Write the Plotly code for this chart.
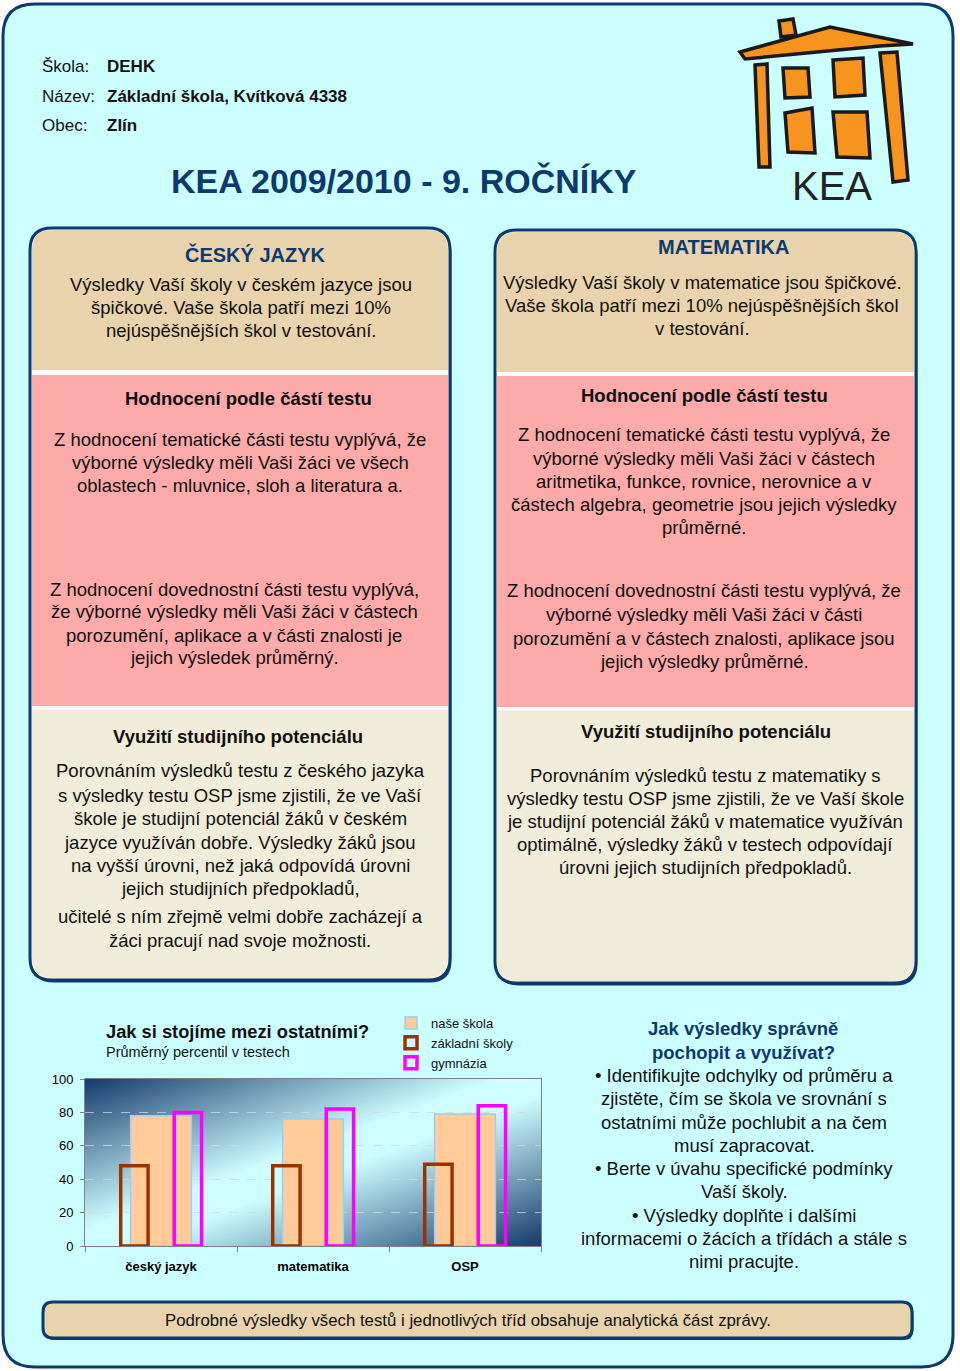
import base64
import plotly.graph_objects as go

W, H = 960, 1371
FONT = "Liberation Sans, Arial, sans-serif"
NAVY = "#0d3a6e"
TXT = "#111111"

# ---------------- data ----------------
categories = ["český jazyk", "matematika", "OSP"]
nase_skola = [78, 76, 79]
zakladni_skoly = [48, 48, 49]
gymnazia = [80, 82, 84]
y_ticks = [0, 20, 40, 60, 80, 100]
series_names = ["naše škola", "základní školy", "gymnázia"]

# ---------------- helpers ----------------
def X(px):
    return px / W

def Y(py):
    return 1 - py / H

def P(x, y):
    return f"{X(x):.5f},{Y(y):.5f}"

def rr(x0, y0, x1, y1, r, rt=True, rb=True):
    a = r if rt else 0
    b = r if rb else 0
    return (f"M{P(x0+a,y0)} L{P(x1-a,y0)} Q{P(x1,y0)} {P(x1,y0+a)} "
            f"L{P(x1,y1-b)} Q{P(x1,y1)} {P(x1-b,y1)} L{P(x0+b,y1)} "
            f"Q{P(x0,y1)} {P(x0,y1-b)} L{P(x0,y0+a)} Q{P(x0,y0)} {P(x0+a,y0)} Z")

def poly(pts):
    return "M" + " L".join(P(x, y) for x, y in pts) + " Z"

shapes = []
annotations = []

def shape(path, fill=None, line=None, lw=0, fillrule=None):
    d = dict(type="path", path=path, xref="paper", yref="paper", layer="above",
             line=dict(color=line if line else "rgba(0,0,0,0)", width=lw))
    d["fillcolor"] = fill if fill else "rgba(0,0,0,0)"
    if fillrule:
        d["fillrule"] = fillrule
    shapes.append(d)

def txt(x, y, s, size=18.5, bold=False, color=TXT, xanchor="center"):
    annotations.append(dict(
        x=X(x), y=Y(y), xref="paper", yref="paper",
        text=f"<b>{s}</b>" if bold else s, showarrow=False,
        font=dict(family=FONT, size=size, color=color),
        xanchor=xanchor, yanchor="middle"))

# ---------------- outer frame ----------------
CYAN = "#ccffff"
TAN = "#e8d3ac"
PINK = "#fcaaaa"
CREAM = "#f0ecda"
SHADOW = "#123a66"

shape(f"M{P(-5,-5)} L{P(W+5,-5)} L{P(W+5,H+5)} L{P(-5,H+5)} Z " + rr(3, 4, 953, 1367, 32),
      fill="white", fillrule="evenodd")
shape(rr(3, 4, 953, 1367, 32), line=NAVY, lw=3)

# ---------------- panels ----------------
def panel(x0, y0, x1, y1, tan_end, pink0, pink1, cream0):
    shape(rr(x0 + 1.5, y0 + 2.5, x1 + 1.5, y1 + 2.5, 22), fill=SHADOW)
    shape(rr(x0, y0, x1, y1, 22), fill="white")
    shape(rr(x0 + 2, y0 + 2, x1 - 2, tan_end, 20, rb=False), fill=TAN)
    shape(rr(x0 + 2, pink0, x1 - 2, pink1, 0), fill=PINK)
    shape(rr(x0 + 2, cream0, x1 - 2, y1 - 2, 20, rt=False), fill=CREAM)
    shape(rr(x0, y0, x1, y1, 22), line=NAVY, lw=3)

panel(30, 228, 450, 980, 370, 375, 706, 710)
panel(495, 230, 916, 983, 372, 376, 707, 710)

# bottom banner
shape(rr(44.5, 1304, 913.5, 1340, 10), fill=SHADOW)
shape(rr(43, 1302, 912, 1338, 10), fill=TAN, line=NAVY, lw=3)

# ---------------- logo ----------------
ORANGE = "#f7941d"
BLK = "#1a1a1a"
logo_parts = [
    [(779, 21), (793, 19), (796, 35), (781, 37)],
    [(740, 52), (830, 27), (913, 44), (880, 46), (745, 59)],
    [(755, 65), (767, 64), (770, 167), (759, 167)],
    [(783, 68), (808, 68), (810, 97), (785, 98)],
    [(833, 60), (863, 58), (865, 95), (835, 97)],
    [(785, 113), (812, 108), (815, 153), (788, 152)],
    [(833, 112), (867, 112), (870, 158), (837, 157)],
    [(880, 53), (897, 52), (908, 180), (893, 182)],
]
for pts in logo_parts:
    shape(poly(pts), fill=ORANGE, line=BLK, lw=3.5)
txt(832, 186, "KEA", size=40, color="#222222")

# ---------------- header ----------------
for yy, lab, val in [(66, "Škola:", "DEHK"),
                     (96, "Název:", "Základní škola, Kvítková 4338"),
                     (126, "Obec:", "Zlín")]:
    txt(40, yy, lab, size=17, xanchor="left")
    txt(105, yy, val, size=17, bold=True, xanchor="left")
txt(404, 181, "KEA 2009/2010 - 9. ROČNÍKY", size=34, bold=True, color=NAVY)

# ---------------- left panel texts ----------------
txt(255, 254, "ČESKÝ JAZYK", size=20, bold=True, color=NAVY)
for yy, s in [(284, "Výsledky Vaší školy v českém jazyce jsou"),
              (307, "špičkové. Vaše škola patří mezi 10%"),
              (330, "nejúspěšnějších škol v testování.")]:
    txt(241, yy, s)
txt(248, 398, "Hodnocení podle částí testu", bold=True)
for yy, s in [(439, "Z hodnocení tematické části testu vyplývá, že"),
              (462, "výborné výsledky měli Vaši žáci ve všech"),
              (486, "oblastech - mluvnice, sloh a literatura a.")]:
    txt(240, yy, s)
for yy, s in [(589, "Z hodnocení dovednostní části testu vyplývá,"),
              (612, "že výborné výsledky měli Vaši žáci v částech"),
              (635, "porozumění, aplikace a v části znalosti je"),
              (658, "jejich výsledek průměrný.")]:
    txt(234, yy, s)
txt(238, 736, "Využití studijního potenciálu", bold=True)
for yy, s in [(771, "Porovnáním výsledků testu z českého jazyka"),
              (795, "s výsledky testu OSP jsme zjistili, že ve Vaší"),
              (818, "škole je studijní potenciál žáků v českém"),
              (842, "jazyce využíván dobře. Výsledky žáků jsou"),
              (865, "na vyšší úrovni, než jaká odpovídá úrovni"),
              (888, "jejich studijních předpokladů,"),
              (916, "učitelé s ním zřejmě velmi dobře zacházejí a"),
              (940, "žáci pracují nad svoje možnosti.")]:
    txt(240, yy, s)

# ---------------- right panel texts ----------------
txt(723, 247, "MATEMATIKA", size=20, bold=True, color=NAVY)
for yy, s in [(282, "Výsledky Vaší školy v matematice jsou špičkové."),
              (305, "Vaše škola patří mezi 10% nejúspěšnějších škol"),
              (328, "v testování.")]:
    txt(702, yy, s)
txt(704, 395, "Hodnocení podle částí testu", bold=True)
for yy, s in [(434, "Z hodnocení tematické části testu vyplývá, že"),
              (458, "výborné výsledky měli Vaši žáci v částech"),
              (481, "aritmetika, funkce, rovnice, nerovnice a v"),
              (504, "částech algebra, geometrie jsou jejich výsledky"),
              (528, "průměrné."),
              (591, "Z hodnocení dovednostní části testu vyplývá, že"),
              (614, "výborné výsledky měli Vaši žáci v části"),
              (638, "porozumění a v částech znalosti, aplikace jsou"),
              (661, "jejich výsledky průměrné.")]:
    txt(704, yy, s)
txt(706, 731, "Využití studijního potenciálu", bold=True)
for yy, s in [(775, "Porovnáním výsledků testu z matematiky s"),
              (798, "výsledky testu OSP jsme zjistili, že ve Vaší škole"),
              (821, "je studijní potenciál žáků v matematice využíván"),
              (845, "optimálně, výsledky žáků v testech odpovídají"),
              (868, "úrovni jejich studijních předpokladů.")]:
    txt(705, yy, s)

# ---------------- bottom right texts ----------------
txt(743, 1028, "Jak výsledky správně", bold=True, color=NAVY)
txt(743, 1052, "pochopit a využívat?", bold=True, color=NAVY)
for yy, s in [(1075, "• Identifikujte odchylky od průměru a"),
              (1098, "zjistěte, čím se škola ve srovnání s"),
              (1122, "ostatními může pochlubit a na čem"),
              (1145, "musí zapracovat."),
              (1168, "• Berte v úvahu specifické podmínky"),
              (1191, "Vaší školy."),
              (1215, "• Výsledky doplňte i dalšími"),
              (1238, "informacemi o žácích a třídách a stále s"),
              (1261, "nimi pracujte.")]:
    txt(744, yy, s)

txt(468, 1320, "Podrobné výsledky všech testů i jednotlivých tříd obsahuje analytická část zprávy.", size=16.8)

# chart titles
txt(104, 1031, "Jak si stojíme mezi ostatními?", size=18.3, bold=True, xanchor="left")
txt(104, 1052, "Průměrný percentil v testech", size=14.5, xanchor="left")

# ---------------- chart ----------------
PX0, PX1, PY0, PY1 = 85, 541, 1079, 1246

fig = go.Figure()
fig.add_trace(go.Bar(x=categories, y=nase_skola, name=series_names[0],
                     width=0.40, offset=-0.20,
                     marker=dict(color="#ffcc99", line=dict(color="#99ccff", width=1.5))))
fig.add_trace(go.Bar(x=categories, y=zakladni_skoly, name=series_names[1],
                     width=0.18, offset=-0.265,
                     marker=dict(color="rgba(0,0,0,0)", line=dict(color="#993300", width=3.5))))
fig.add_trace(go.Bar(x=categories, y=gymnazia, name=series_names[2],
                     width=0.18, offset=0.087,
                     marker=dict(color="rgba(0,0,0,0)", line=dict(color="#ff00ff", width=3.5))))

svg = ('<svg xmlns="http://www.w3.org/2000/svg" width="456" height="167" viewBox="0 0 456 167" '
       'preserveAspectRatio="none"><defs><linearGradient id="g" x1="0" y1="0" x2="1" y2="1">'
       '<stop offset="0" stop-color="#163a6c"/><stop offset="0.45" stop-color="#cdfdff"/>'
       '<stop offset="0.55" stop-color="#cdfdff"/>'
       '<stop offset="1" stop-color="#163a6c"/></linearGradient></defs>'
       '<rect width="456" height="167" fill="url(#g)"/></svg>')
src = "data:image/svg+xml;base64," + base64.b64encode(svg.encode()).decode()

fig.update_layout(
    width=W, height=H, autosize=False,
    margin=dict(l=0, r=0, t=0, b=0, pad=0, autoexpand=False),
    paper_bgcolor=CYAN, plot_bgcolor="rgba(0,0,0,0)",
    barmode="overlay",
    showlegend=True,
    legend=dict(x=X(391), y=Y(1008), xanchor="left", yanchor="top",
                bgcolor="rgba(0,0,0,0)", font=dict(family=FONT, size=13, color=TXT),
                traceorder="normal", tracegroupgap=0),
    xaxis=dict(domain=[X(PX0), X(PX1)], range=[-0.5, 2.5], type="category",
               showline=True, linecolor="#808080", linewidth=1, mirror=True,
               ticks="outside", tickson="boundaries", ticklen=5, tickcolor="#808080",
               showgrid=False, ticklabelstandoff=8, automargin=False,
               tickfont=dict(family=FONT, size=13, color="#000", weight="bold")),
    yaxis=dict(domain=[Y(PY1), Y(PY0)], range=[0, 100], tickvals=y_ticks,
               showline=True, linecolor="#808080", linewidth=1, mirror=True,
               ticks="outside", ticklen=4, tickcolor="#808080",
               showgrid=True, gridcolor="rgba(215,215,215,0.75)", griddash="dash",
               zeroline=False, ticklabelstandoff=4, automargin=False,
               tickfont=dict(family=FONT, size=13, color="#000")),
    images=[dict(source=src, xref="paper", yref="paper", x=X(PX0), y=Y(PY0),
                 sizex=X(PX1) - X(PX0), sizey=Y(PY0) - Y(PY1),
                 xanchor="left", yanchor="top", sizing="stretch", layer="below")],
    shapes=shapes,
    annotations=annotations,
)

fig.write_html("out.html", config={"displayModeBar": False},
               post_script="document.body.style.margin='0';document.body.style.padding='0';")
